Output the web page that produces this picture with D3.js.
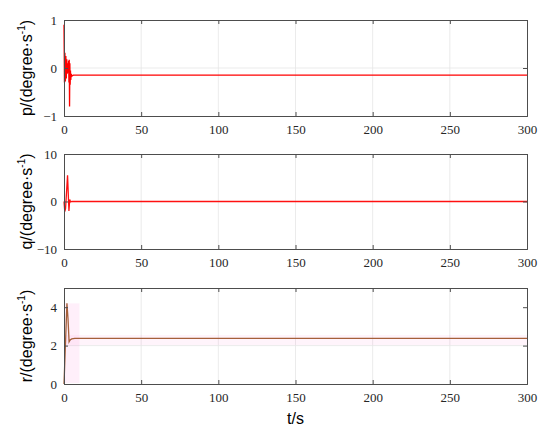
<!DOCTYPE html>
<html><head><meta charset="utf-8">
<script src="https://cdn.jsdelivr.net/npm/d3@7"></script>
<style>body{margin:0;background:#fff}svg{display:block}</style>
</head><body>
<script>
// ---- data ----
const xTicks = [0, 50, 100, 150, 200, 250, 300];
const pTime = [0, 0.3, 0.6, 0.9, 1.2, 1.5, 1.8, 2.1, 2.4, 2.7, 3.0, 3.2, 3.4, 3.6, 3.8, 4.0, 4.2, 4.4, 4.7, 5.0, 6, 8, 300];
const pVals = [0.9, -0.3, 0.32, -0.28, 0.25, -0.22, 0.18, -0.12, 0.1, -0.1, 0.15, -0.3, 0.17, -0.8, 0.1, -0.35, -0.05, -0.25, -0.12, -0.17, -0.15, -0.15, -0.15];
const qTime = [0, 0.5, 1.0, 2.3, 3.2, 3.7, 4.3, 5, 300];
const qVals = [0, -2.1, -1.5, 5.5, -2.0, 0.4, -0.1, 0, 0];
const rTime = [0, 1.9, 2.6, 3.3, 4.0, 5.0, 7, 10, 300];
const rVals = [0, 4.2, 3.4, 2.2, 2.3, 2.35, 2.38, 2.38, 2.38];
const pTicks = [-1, 0, 1];
const qTicks = [-10, 0, 10];
const rTicks = [0, 2, 4];
const panels = [
  {label: "p", t: pTime, v: pVals, domain: [-1, 1], ticks: pTicks, top: 20, bottom: 116, color: "#ff0000"},
  {label: "q", t: qTime, v: qVals, domain: [-10, 10], ticks: qTicks, top: 154, bottom: 249, color: "#ff1010"},
  {label: "r", t: rTime, v: rVals, domain: [0, 5], ticks: rTicks, top: 288, bottom: 384, color: "#a5603a"}
];
// shaded regions in r panel: [t0, t1, y0, y1]
const rShadeBox = [0, 10, 0.05, 4.2];
const rShadeBand = [0, 300, 2.03, 2.55];

const W = 550, H = 436, L = 64, R = 527;
const svg = d3.select("body").append("svg").attr("width", W).attr("height", H);
const x = d3.scaleLinear().domain([0, 300]).range([L, R]);

panels.forEach((p, i) => {
  const y = d3.scaleLinear().domain(p.domain).range([p.bottom, p.top]);
  const g = svg.append("g");
  // grid
  g.selectAll(".gx").data(xTicks.slice(1, -1)).enter().append("line")
    .attr("x1", d => x(d)).attr("x2", d => x(d)).attr("y1", p.top).attr("y2", p.bottom)
    .attr("stroke", "#e6e6e6").attr("stroke-width", 0.8);
  g.selectAll(".gy").data(p.ticks.slice(1, -1)).enter().append("line")
    .attr("x1", L).attr("x2", R).attr("y1", d => y(d)).attr("y2", d => y(d))
    .attr("stroke", "#e6e6e6").attr("stroke-width", 0.8);
  if (p.label === "r") {
    g.append("rect").attr("x", x(rShadeBand[0])).attr("width", x(rShadeBand[1]) - x(rShadeBand[0]))
      .attr("y", y(rShadeBand[3])).attr("height", y(rShadeBand[2]) - y(rShadeBand[3]))
      .attr("fill", "#ff66cc").attr("opacity", 0.07);
    g.append("rect").attr("x", x(rShadeBox[0])).attr("width", x(rShadeBox[1]) - x(rShadeBox[0]))
      .attr("y", y(rShadeBox[3])).attr("height", y(rShadeBox[2]) - y(rShadeBox[3]))
      .attr("fill", "#ff66cc").attr("opacity", 0.1);
  }
  // line
  const line = d3.line().x((d, k) => x(p.t[k])).y(d => y(d));
  g.append("path").datum(p.v).attr("d", line).attr("fill", "none")
    .attr("stroke", p.color).attr("stroke-width", 1.3);
  // axes
  const ax = d3.axisBottom(x).tickValues(xTicks).tickSize(-4).tickPadding(9);
  const ay = d3.axisLeft(y).tickValues(p.ticks).tickSize(-4).tickPadding(7)
    .tickFormat(d => d < 0 ? "\u2212" + Math.abs(d) : d);
  const axT = d3.axisTop(x).tickValues(xTicks).tickSize(-4).tickFormat("");
  const ayR = d3.axisRight(y).tickValues(p.ticks).tickSize(-4).tickFormat("");
  [[ax, `translate(0,${p.bottom})`], [ay, `translate(${L},0)`], [axT, `translate(0,${p.top})`], [ayR, `translate(${R},0)`]]
    .forEach(([a, tr]) => {
      const ga = g.append("g").attr("transform", tr).call(a);
      ga.select(".domain").attr("stroke", "#4d4d4d").attr("stroke-width", 1);
      ga.selectAll(".tick line").attr("stroke", "#4d4d4d");
      ga.selectAll("text").attr("font-family", "'Liberation Serif', 'DejaVu Serif', serif")
        .attr("font-size", 13).attr("fill", "#262626");
    });
  // y label
  const yl = svg.append("text")
    .attr("transform", `translate(32,${(p.top + p.bottom) / 2}) rotate(-90)`)
    .attr("text-anchor", "middle")
    .attr("font-family", "'Liberation Sans', Arial, sans-serif").attr("font-size", 16).attr("fill", "#000");
  yl.append("tspan").text(p.label + "/(degree\u00b7s");
  yl.append("tspan").attr("font-size", 10).attr("dy", -7).text("-1");
  yl.append("tspan").attr("dy", 7).text(")");
});
svg.append("text").attr("x", (L + R) / 2).attr("y", 424).attr("text-anchor", "middle")
  .attr("font-family", "'Liberation Sans', Arial, sans-serif").attr("font-size", 16).attr("fill", "#000").text("t/s");
</script>
</body></html>
